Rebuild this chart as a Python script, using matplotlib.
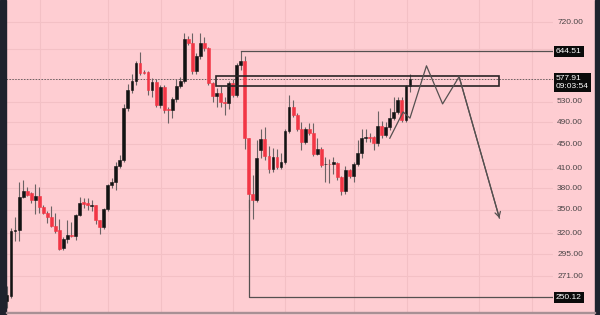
import matplotlib
matplotlib.use("Agg")
import matplotlib.pyplot as plt
import matplotlib.transforms as mtransforms
from matplotlib.patches import Rectangle

# candle data (one candle per slot)
opens = [246, 251, 322, 324, 367, 376, 373, 363, 369, 354,
         346, 341, 329, 324, 302, 313, 317.5, 316, 343, 361,
         359, 355, 356, 336, 328, 351, 385, 390, 414, 424,
         518, 555, 574, 616, 595, 595, 555, 572, 524, 561,
         516, 514, 536, 563, 574, 675, 665, 596, 632, 665,
         652, 570, 542, 549, 530, 528, 570, 544, 611, 620,
         461, 372, 363, 440, 459, 430, 409, 428, 413, 421,
         474, 520, 504, 477, 454, 477, 470, 434, 443, 417,
         418, 418, 419, 397, 376, 408, 399, 417, 435, 461,
         464, 463, 452, 483, 467, 481, 498, 510, 534, 494, 563]
highs = [261, 326, 340, 390, 392, 382, 375, 386, 382, 356,
         348, 355, 346, 338, 315, 336, 334, 345, 367, 366,
         366, 364, 357, 337, 352, 386, 396, 420, 432, 525,
         568, 590, 620, 642, 600, 597, 582, 578, 566, 565,
         520, 540, 578, 583, 690, 683, 690, 640, 690, 680,
         655, 572, 560, 563, 540, 575, 578, 615, 644.51, 632,
         462, 400, 457, 477, 481, 448, 444, 442, 435, 478,
         544, 534, 508, 490, 482, 489, 488, 462, 446, 428,
         425, 428, 421, 399, 414, 410, 420, 457, 477, 477,
         470, 465, 512, 492, 491, 518, 540, 541, 540, 566, 590]
lows = [240, 249, 310, 310, 366, 369, 359, 345, 346, 344,
        333, 328, 320, 300, 300, 308, 315, 312, 342, 352,
        350, 349, 332, 319, 325, 349, 380, 378, 411, 420,
        512, 548, 565, 588, 590, 545, 540, 520, 518, 508,
        489, 498, 530, 560, 570, 660, 590, 590, 625, 645,
        566, 530, 520, 519, 504, 515, 540, 540, 600, 443,
        352, 338, 360, 427, 424, 403, 405, 410, 410, 418,
        470, 500, 474, 440, 450, 466, 430, 432, 413, 390,
        388, 401, 392, 370, 372, 396, 390, 414, 427, 455,
        455, 440, 448, 462, 464, 476, 495, 505, 490, 490, 550]
closes = [252, 322, 324, 367, 376, 371, 363, 369, 354, 346,
          341, 329, 323, 301, 313, 318, 316, 343, 359, 358,
          356, 357, 336, 328, 351, 385, 390, 414, 424, 518,
          555, 574, 616, 592, 593, 555, 572, 524, 561, 514,
          514, 536, 563, 574, 675, 665, 596, 632, 665, 652,
          570, 542, 549, 530, 528, 570, 544, 611, 620, 461,
          372, 363, 427, 459, 430, 409, 428, 413, 421, 474,
          520, 504, 477, 454, 477, 470, 434, 443, 416, 418,
          417, 420, 397, 376, 408, 399, 417, 435, 461, 463,
          462, 452, 483, 467, 481, 498, 510, 534, 494, 563, 577.91]

# price scale labels and vertical date grid
tick_prices = [720, 650, 580, 530, 490, 450, 410, 380, 350, 320, 295, 271]
tick_labels = ["720.00", "", "580.00", "530.00", "490.00", "450.00", "410.00",
               "380.00", "350.00", "320.00", "295.00", "271.00"]
date_grid = [8.2, 25.1, 38.2, 56.1, 69.0, 86.1, 99.3, 117.1, 130.3]

last_price = 577.91
last_time = "09:03:54"
range_high = 644.51
range_low = 250.12
zone = (51.9, 122.1, 563.4, 585.6)   # x from, x to, price low, price high
path_x = [95.0, 98.3, 100.0, 104.1, 108.1, 112.2, 122.2]
path_p = [461, 510, 498, 609, 526, 584, 339]

pink = "#fecdd2"
grid_c = "#f3c0c5"
up_c = "#131313"
down_c = "#f23645"
wick_c = "#6b6264"
strip_c = "#1e222d"
draw_c = "#555050"

plt.rcParams["font.family"] = ["Liberation Sans", "DejaVu Sans"]

fig = plt.figure(figsize=(6, 3.15), dpi=100)
fig.patch.set_facecolor(pink)
ax = fig.add_axes([6 / 600, 3 / 315, 547 / 600, 312 / 315])
ax.set_facecolor(pink)
ax.set_yscale("log")
ax.set_ylim(236.2, 784.5)
ax.set_xlim(-0.25, 135.5)
for s in ax.spines.values():
    s.set_visible(False)
ax.set_xticks([])
ax.set_yticks([])
ax.minorticks_off()

# grid
for p in tick_prices:
    ax.axhline(p, color=grid_c, lw=0.8, zorder=0)
for x in date_grid:
    ax.axvline(x, color=grid_c, lw=0.8, zorder=0)

# candles
for i, (o, h, l, c) in enumerate(zip(opens, highs, lows, closes)):
    col = up_c if c >= o else down_c
    ax.vlines(i, l, h, color=wick_c, lw=0.8, zorder=2)
    lo, hi = min(o, c), max(o, c)
    ax.bar(i, hi - lo, bottom=lo, width=0.7, color=col, edgecolor=col,
           linewidth=0.4, zorder=3)

# current price dotted line
ax.axhline(last_price, color="#6a5f61", lw=0.7, ls=(0, (1.5, 1.5)), zorder=1)

# range lines
ax.plot([58, 135.5], [range_high, range_high], color=draw_c, lw=0.9, zorder=4)
ax.plot([60, 60, 135.5], [364, range_low, range_low], color=draw_c, lw=0.9,
        zorder=4)

# resistance zone
ax.add_patch(Rectangle((zone[0], zone[2]), zone[1] - zone[0], zone[3] - zone[2],
                       fill=False, ec="#2a2426", lw=1.2, zorder=5))

# projected path
ax.plot(path_x, path_p, color=draw_c, lw=0.9, zorder=5)
ax.annotate("", xy=(path_x[-1], path_p[-1]), xytext=(path_x[-2], path_p[-2]),
            arrowprops=dict(arrowstyle="->,head_length=0.35,head_width=0.2",
                            color=draw_c, lw=0.9, shrinkA=0, shrinkB=0),
            zorder=6)

# price scale labels
tr = mtransforms.blended_transform_factory(ax.transAxes, ax.transData)
for p, lab in zip(tick_prices, tick_labels):
    if lab:
        ax.text(1.0075, p, lab, transform=tr, ha="left", va="center",
                fontsize=6, color="#4a4446", clip_on=False)
box = dict(boxstyle="square,pad=0.25", fc="#0b0b0b", ec="none")
ax.text(1.0055, range_high, "644.51", transform=tr, ha="left", va="center",
        fontsize=6, color="white", bbox=box, clip_on=False, zorder=10)
ax.text(1.0055, range_low, "250.12", transform=tr, ha="left", va="center",
        fontsize=6, color="white", bbox=box, clip_on=False, zorder=10)
ax.text(1.0055, 587, f"{last_price:.2f}\n{last_time}", transform=tr, ha="left",
        va="top", fontsize=6, color="white", linespacing=1.1,
        bbox=dict(boxstyle="square,pad=0.3", fc="#0b0b0b", ec="none"),
        clip_on=False, zorder=10)

# frame strips
fig.add_artist(Rectangle((0, 0), 6 / 600, 1, transform=fig.transFigure,
                         color=strip_c, zorder=20))
fig.add_artist(Rectangle((595 / 600, 0), 5 / 600, 1, transform=fig.transFigure,
                         color=strip_c, zorder=20))
fig.add_artist(Rectangle((6 / 600, 2 / 315), 589 / 600, 1.2 / 315,
                         transform=fig.transFigure, color="#a89095", zorder=20))

fig.savefig("out.png", dpi=100, facecolor=pink)
